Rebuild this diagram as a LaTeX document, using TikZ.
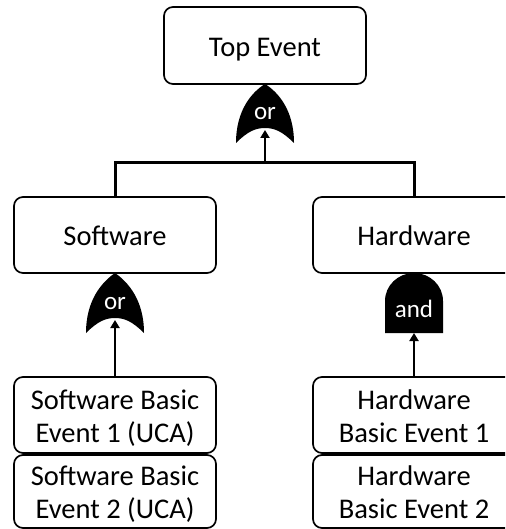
\documentclass[tikz,border=0pt]{standalone}
\usepackage{fontspec}
\setmainfont{Carlito}
\usetikzlibrary{arrows.meta}
\newcommand{\lowtext}[1]{\raisebox{-4pt}[\height][\depth]{\begin{tabular}{@{}c@{}}#1\end{tabular}}}
\begin{document}
\begin{tikzpicture}[x=1pt,y=-1pt,
  evbox/.style={draw=black,line width=1.7pt,rounded corners=9pt,minimum width=202pt,
    inner sep=0pt,align=center,font=\fontsize{28.5}{33}\selectfont},
  gatetext/.style={text=white,font=\fontsize{25}{29}\selectfont,inner sep=0pt},
  conn/.style={line width=3pt},
  arr/.style={line width=2.8pt,-{Triangle[length=8pt,width=9pt]}},
  gatefill/.style={fill=black,draw=none}]
\clip (0,0) rectangle (505,529);
% event boxes
\node[evbox,minimum height=77pt] (top) at (265,45.5) {\lowtext{Top Event}};
\node[evbox,minimum height=76pt] (sw) at (115,235) {\lowtext{Software}};
\node[evbox,minimum height=76pt] (hw) at (414,235) {\lowtext{Hardware}};
\node[evbox,minimum height=76pt] (sb1) at (115,415) {\lowtext{Software Basic\\Event 1 (UCA)}};
\node[evbox,minimum height=73pt] (sb2) at (115,491.5) {\lowtext{Software Basic\\Event 2 (UCA)}};
\node[evbox,minimum height=76pt] (hb1) at (414,415) {\lowtext{Hardware\\Basic Event 1}};
\node[evbox,minimum height=73pt] (hb2) at (414,491.5) {\lowtext{Hardware\\Basic Event 2}};
% top or gate
\fill[gatefill] (236,143) .. controls (236,110) and (252,92) .. (265,84)
  .. controls (278,92) and (294,110) .. (294,143)
  .. controls (282,131) and (274,128) .. (265,128)
  .. controls (256,128) and (248,131) .. (236,143) -- cycle;
\node[gatetext] (g1) at (265,114) {or};
\coordinate (g1in) at (265,130);
% software or gate
\fill[gatefill] (86,333) .. controls (86,300) and (102,282) .. (115,273)
  .. controls (128,282) and (144,300) .. (144,333)
  .. controls (132,321) and (124,318) .. (115,318)
  .. controls (106,318) and (98,321) .. (86,333) -- cycle;
\node[gatetext] (g2) at (115,304) {or};
\coordinate (g2in) at (115,320);
% hardware and gate
\fill[gatefill] (385,333) -- (385,301) arc[start angle=180,end angle=360,x radius=29,y radius=28] -- (443,333) -- cycle;
\node[gatetext] (g3) at (414,309) {and};
\coordinate (g3in) at (414,333);
% connectors
\coordinate (bus) at (265,163);
\draw[conn] (sw.north) |- (bus) -| (hw.north);
\draw[arr] (bus) -- (g1in);
\draw[arr] (sb1.north) -- (g2in);
\draw[arr] (hb1.north) -- (g3in);
\end{tikzpicture}
\end{document}
